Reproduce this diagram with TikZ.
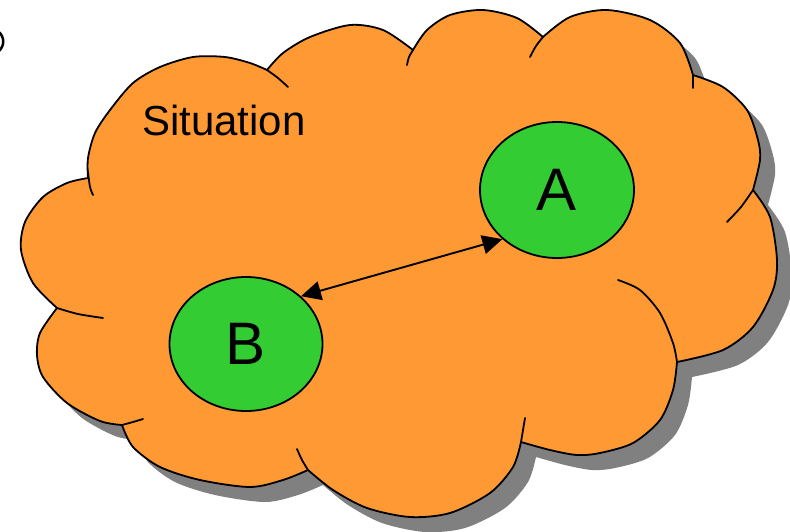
\documentclass[tikz,border=0pt]{standalone}
\usepackage{fontspec}
\setmainfont{Liberation Sans}
\usetikzlibrary{shapes.geometric,arrows.meta}
\definecolor{cloudorange}{HTML}{FF9933}
\definecolor{blobgreen}{HTML}{33CC33}
\definecolor{shadowgray}{HTML}{808080}
\newcommand\cloudoutline{%
 plot[smooth] coordinates {(57,308) (33,283) (21,250) (25,222) (43,197) (67,183) (88,178)}
 -- plot[smooth] coordinates {(88,178) (88,158) (95,133) (110,110) (133,83) (160,67) (193,57) (225,57) (250,63) (267,70)}
 -- plot[smooth] coordinates {(267,70) (283,53) (310,37) (350,25) (383,30) (413,50)}
 -- plot[smooth] coordinates {(413,50) (427,30) (450,15) (483,10) (517,18) (543,37)}
 -- plot[smooth] coordinates {(543,37) (570,17) (607,10) (650,20) (680,43) (693,75)}
 -- plot[smooth] coordinates {(693,75) (723,87) (747,110) (758,140) (760,160) (753,190)}
 -- plot[smooth] coordinates {(753,190) (770,217) (777,260) (773,290) (753,327) (723,350) (677,362)}
 -- plot[smooth] coordinates {(677,362) (673,390) (660,420) (633,443) (600,453) (577,455) (550,450) (521,442)}
 -- plot[smooth] coordinates {(521,442) (513,467) (490,493) (450,513) (410,517) (367,508) (333,490) (308,470)}
 -- plot[smooth] coordinates {(308,470) (283,480) (250,487) (200,480) (160,467) (133,447) (122,425)}
 -- plot[smooth] coordinates {(122,425) (100,421) (67,403) (43,377) (37,355) (40,333) (57,308)}
 -- cycle}
\begin{document}
\begin{tikzpicture}[x=1pt,y=-1pt,
  outline/.style={draw=black,line width=1.8pt,line join=round},
  dimple/.style={draw=black,line width=1.8pt,line cap=round},
  blob/.style={ellipse,draw=black,line width=1.8pt,fill=blobgreen,inner sep=0pt,
    font=\fontsize{60}{70}\selectfont},
  conn/.style={line width=1.9pt,{Triangle[length=20pt,width=19pt]}-{Triangle[length=20pt,width=19pt]}}]
\useasboundingbox (0,0) rectangle (790,531);
% shadow
\begin{scope}[shift={(15,15)}]
\fill[shadowgray] \cloudoutline;
\end{scope}
% cloud
\path[fill=cloudorange,outline] \cloudoutline;
% inner dimple strokes
\draw[dimple] plot[smooth] coordinates {(57,308) (78,314) (103,318)};
\draw[dimple] plot[smooth] coordinates {(88,172) (90,187) (93,195)};
\draw[dimple] plot[smooth] coordinates {(267,70) (278,78) (288,87)};
\draw[dimple] plot[smooth] coordinates {(413,50) (409,57) (407,65)};
\draw[dimple] plot[smooth] coordinates {(543,37) (536,46) (530,57)};
\draw[dimple] plot[smooth] coordinates {(693,75) (693,88)};
\draw[dimple] plot[smooth] coordinates {(753,190) (741,207) (727,222)};
\draw[dimple] plot[smooth] coordinates {(618,280) (640,290) (660,313) (673,343) (677,362)};
\draw[dimple] plot[smooth] coordinates {(521,442) (523,430) (525,418)};
\draw[dimple] plot[smooth] coordinates {(308,470) (302,460) (297,449)};
\draw[dimple] plot[smooth] coordinates {(122,425) (133,422) (143,419)};
% stray mark at left edge
\draw[line width=2.5pt] (-2,31) .. controls (5,37) and (5,46) .. (-2,52);
% label
\node[anchor=base west,inner sep=0pt,font=\fontsize{42}{50}\selectfont] (sit) at (142,135) {Situation};
% blobs
\node[blob,minimum width=154pt,minimum height=136pt] (A) at (557,190) {A};
\node[blob,minimum width=153pt,minimum height=134pt] (B) at (246,344) {B};
\draw[conn] (B.41) -- (A.222);
\end{tikzpicture}
\end{document}
